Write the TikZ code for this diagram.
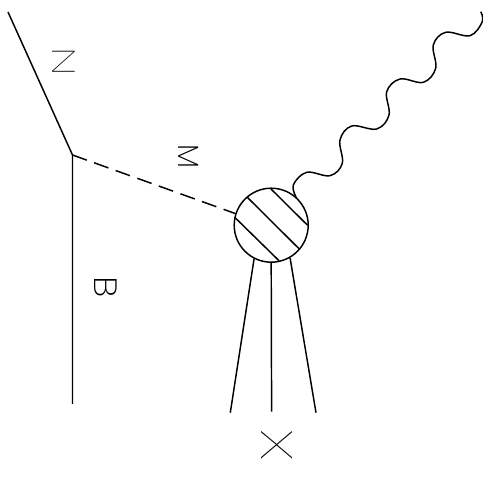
\documentclass[tikz,border=0pt]{standalone}
\usepackage{fontspec}
\usepackage{graphicx}
\newfontfamily\thinfont{Poppins ExtraLight}
\newfontfamily\hairfont{Poppins Thin}
\tikzset{
  line/.style={line width=1.1pt,black},
  dashline/.style={line,dash pattern=on 11.4pt off 5.8pt},
  blobstyle/.style={circle,draw,line width=1.1pt,minimum size=55.5pt,inner sep=0pt},
  hatch/.style={line width=1.1pt,black},
  lbl/.style={inner sep=0pt,rotate=-90,font=\thinfont\fontsize{#1}{#1}\selectfont},
  hairlbl/.style={inner sep=0pt,rotate=-90,font=\hairfont\fontsize{#1}{#1}\selectfont}
}
\begin{document}
\begin{tikzpicture}[x=0.75pt,y=-0.75pt]
\useasboundingbox (0,0) rectangle (483,477);
\coordinate (vtx) at (72.5,155);
\coordinate (nend) at (8,12);
\coordinate (bend) at (72.5,404);
\coordinate (x1) at (230.3,412.7);
\coordinate (x2) at (271.6,411.7);
\coordinate (x3) at (316,412.7);
\node[blobstyle] (blob) at (271.2,225.2) {};
\draw[line] (nend) -- (vtx) -- (bend);
\draw[dashline] (vtx) -- (blob.162);
\draw[line] (blob.-117) -- (x1);
\draw[line] (blob.south) -- (x2);
\draw[line] (blob.-60) -- (x3);
\draw[hatch] (271,189) -- (307.3,225);
\draw[hatch] (247.3,197.3) -- (299,248.7);
\draw[hatch] (234.7,217.3) -- (279,260.7);
\draw[line] plot[smooth,tension=0.6] coordinates {(296.5,198) (293.3,185) (306.7,172.3) (330,175.7) (342.3,163.3) (340,140) (351.7,126) (376.7,129) (389,115) (386.7,91.7) (400,79) (423.3,82.3) (435.7,68.3) (433.3,45) (445.7,32.3) (470,35.7) (482.3,21.7) (480.7,11.7)};
\node[hairlbl=22] (n) at (63.5,61.5) {\scalebox{1.5}[1.1]{N}};
\node[lbl=22] (m) at (188.5,157) {M};
\node[lbl=23] (b) at (106.3,286.7) {\scalebox{1.2}[1.05]{B}};
\node[hairlbl=33] (x) at (276.8,445) {\scalebox{1.43}[1.0]{X}};
\end{tikzpicture}
\end{document}
